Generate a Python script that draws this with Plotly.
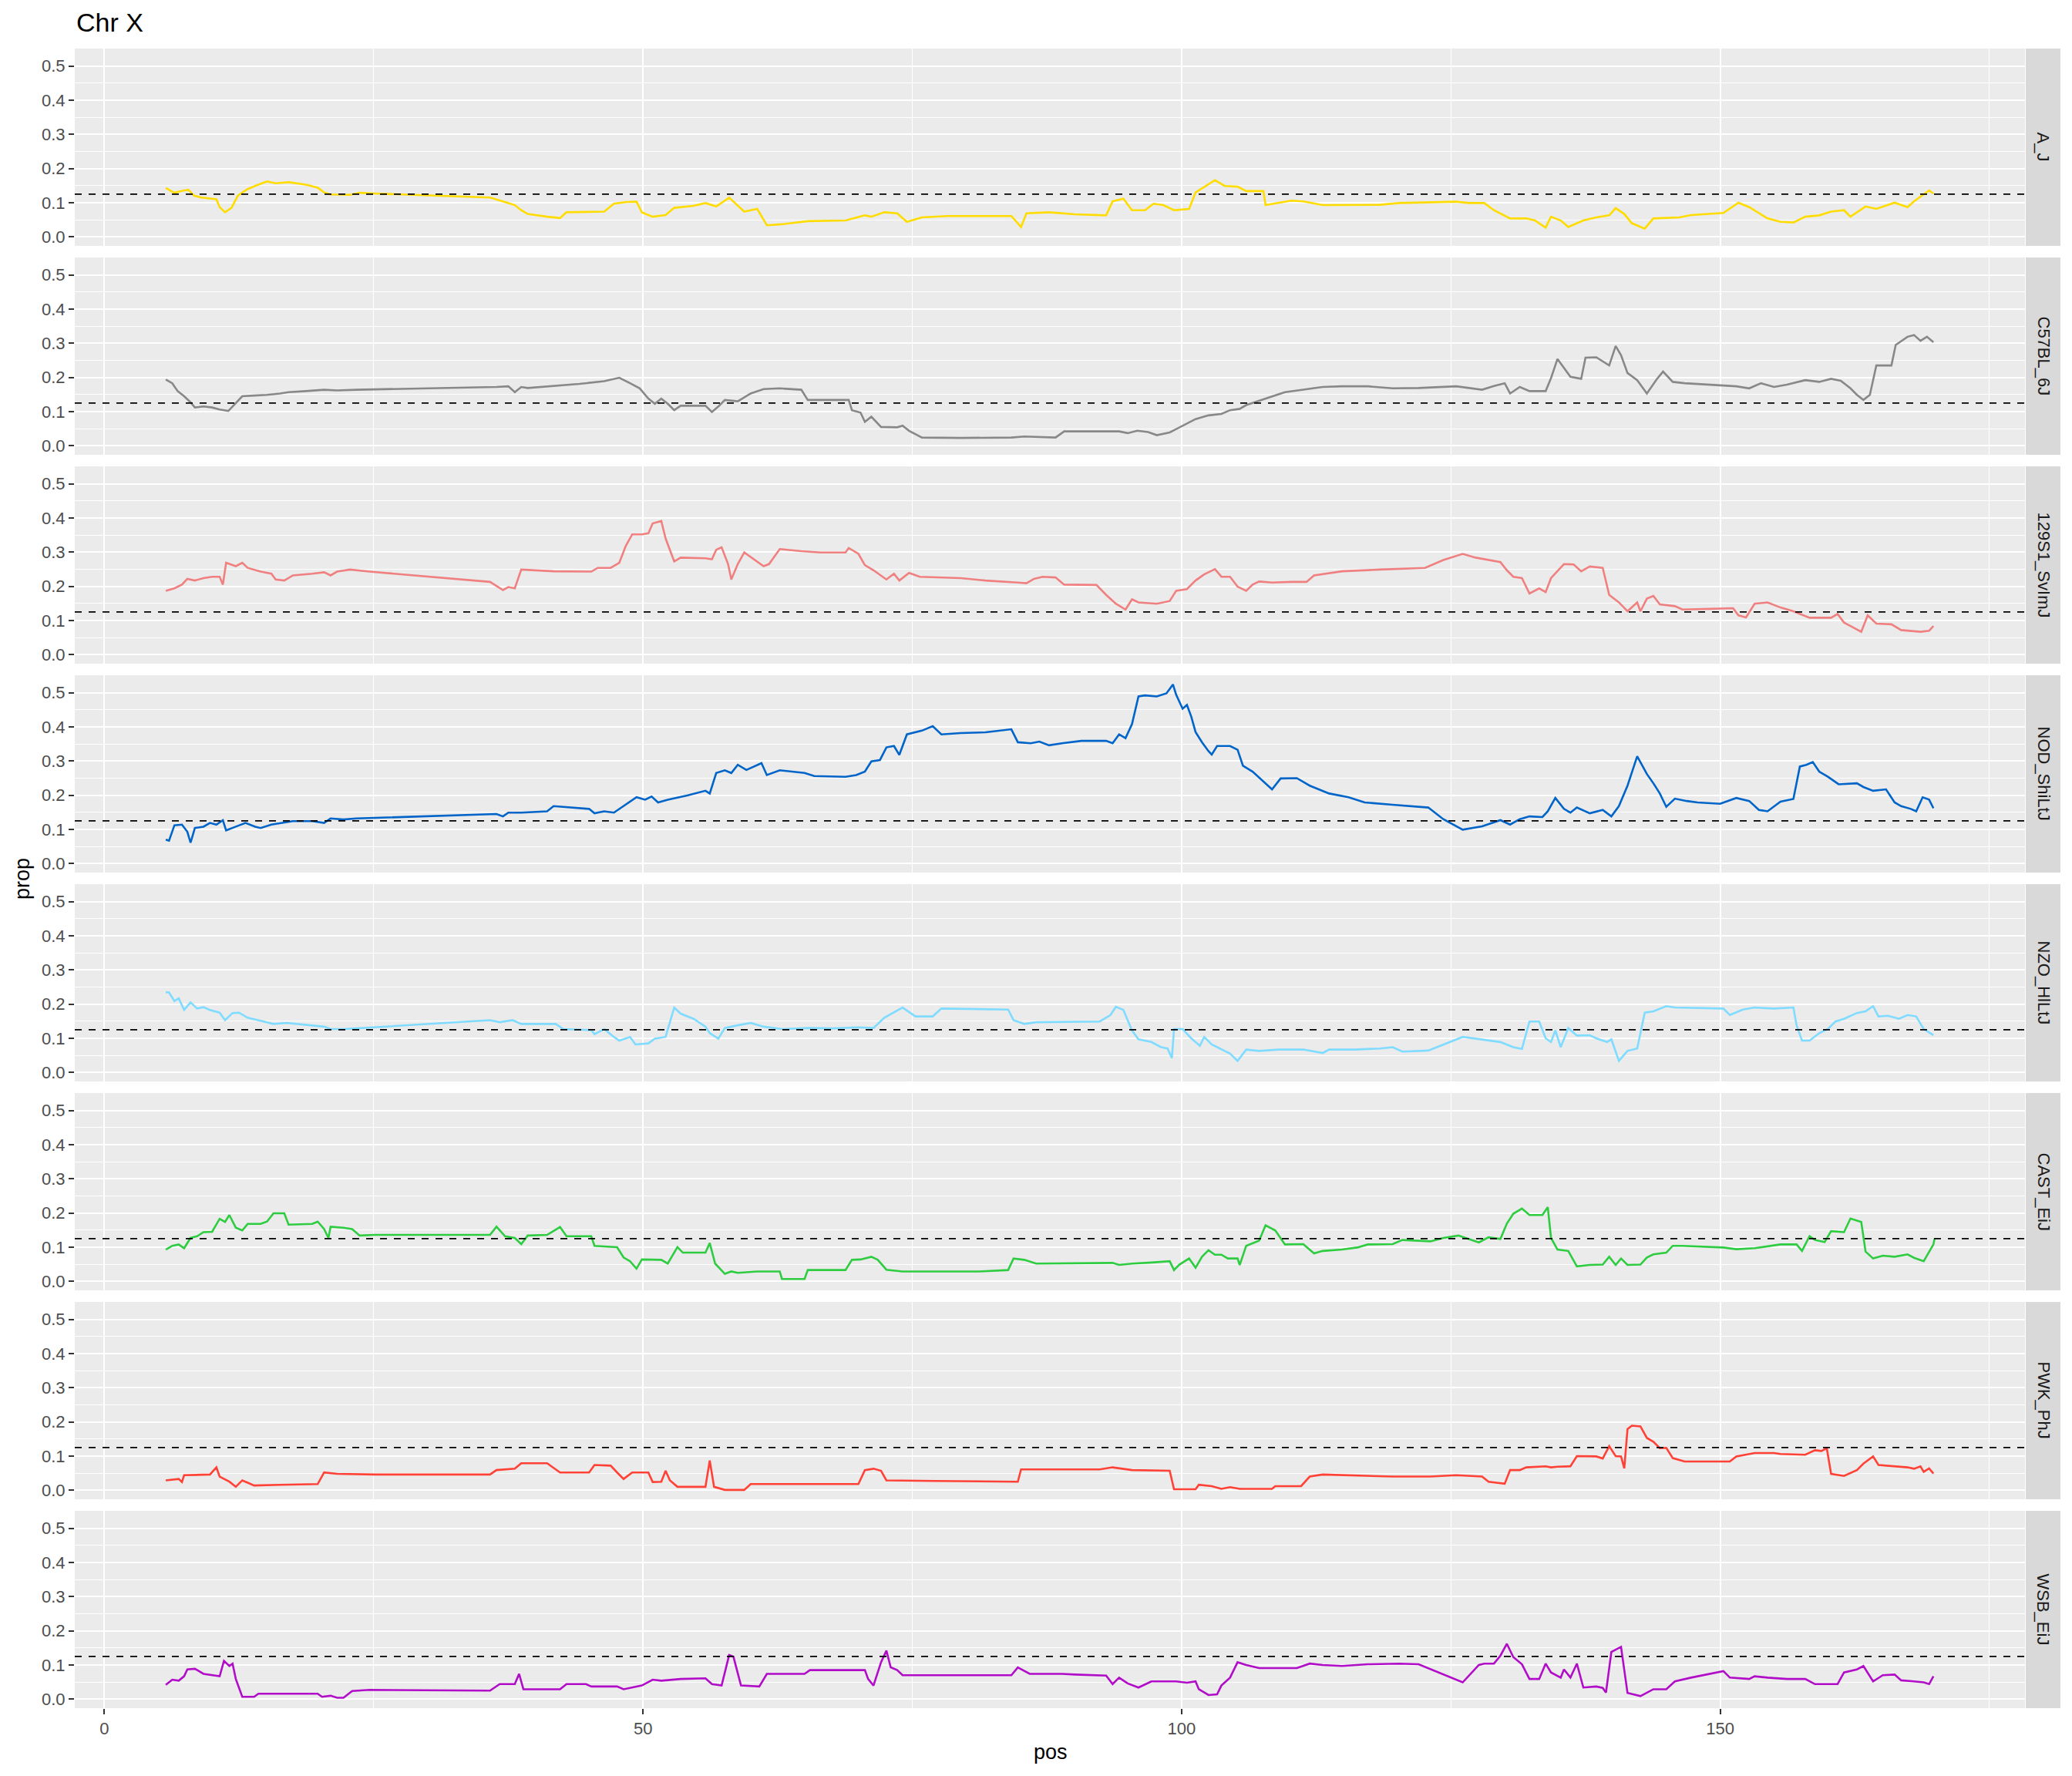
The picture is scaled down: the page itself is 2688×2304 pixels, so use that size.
import plotly.graph_objects as go
from plotly.subplots import make_subplots

strains = ["A_J", "C57BL_6J", "129S1_SvImJ", "NOD_ShiLtJ", "NZO_HlLtJ", "CAST_EiJ", "PWK_PhJ", "WSB_EiJ"]
colors = ["#FFDC00", "#888888", "#F08080", "#0064C9", "#7FDBFF", "#2ECC40", "#FF4136", "#B10DC9"]
threshold = 0.125

aj_pos = [5.7, 6.5, 7.4, 7.8, 8.3, 9.0, 10.4, 10.7, 11.2, 11.8, 12.4, 13.3, 14.3, 15.1, 15.9, 17.1, 18.7, 19.8, 20.4, 21.0, 22.8, 23.7, 25.1, 35.8, 37.0, 38.1, 38.7, 39.3, 41.1, 42.3, 42.9, 45.2, 46.4, 47.3, 48.5, 49.4, 49.9, 50.9, 52.1, 52.9, 54.7, 55.8, 56.8, 58.0, 59.4, 60.6, 61.5, 62.9, 65.3, 68.8, 70.6, 71.2, 72.4, 73.6, 74.5, 75.9, 78.3, 84.2, 85.1, 85.6, 87.7, 90.1, 93.0, 93.6, 94.6, 95.4, 96.6, 97.4, 98.3, 99.3, 100.7, 101.3, 102.2, 103.1, 104.0, 105.2, 106.0, 107.6, 107.8, 109.0, 110.2, 111.3, 113.1, 118.4, 120.2, 125.5, 126.7, 128.1, 129.0, 130.5, 132.0, 132.8, 133.8, 134.3, 135.2, 135.9, 137.3, 138.5, 139.7, 140.3, 141.1, 141.8, 143.0, 143.8, 146.2, 147.3, 150.3, 151.7, 152.7, 154.4, 155.6, 156.8, 157.9, 159.2, 160.3, 161.5, 162.1, 163.5, 164.5, 166.2, 167.4, 168.0, 169.0, 169.4, 169.8]
aj_prop = [0.143, 0.129, 0.136, 0.138, 0.121, 0.115, 0.110, 0.087, 0.072, 0.085, 0.121, 0.140, 0.153, 0.162, 0.157, 0.160, 0.153, 0.144, 0.130, 0.124, 0.123, 0.129, 0.127, 0.115, 0.104, 0.093, 0.078, 0.067, 0.059, 0.055, 0.072, 0.074, 0.074, 0.097, 0.102, 0.103, 0.072, 0.059, 0.064, 0.085, 0.091, 0.099, 0.089, 0.115, 0.074, 0.082, 0.034, 0.037, 0.046, 0.048, 0.063, 0.059, 0.072, 0.069, 0.044, 0.057, 0.061, 0.061, 0.029, 0.069, 0.072, 0.066, 0.063, 0.104, 0.112, 0.078, 0.078, 0.097, 0.093, 0.078, 0.082, 0.130, 0.149, 0.166, 0.149, 0.147, 0.134, 0.134, 0.093, 0.099, 0.106, 0.104, 0.093, 0.094, 0.099, 0.103, 0.099, 0.099, 0.078, 0.054, 0.054, 0.048, 0.027, 0.059, 0.048, 0.029, 0.048, 0.057, 0.063, 0.084, 0.067, 0.040, 0.024, 0.054, 0.057, 0.064, 0.070, 0.100, 0.087, 0.054, 0.044, 0.042, 0.059, 0.063, 0.074, 0.078, 0.059, 0.089, 0.082, 0.100, 0.087, 0.104, 0.127, 0.136, 0.127]

b6_pos = [5.7, 6.3, 6.8, 7.4, 8.0, 8.4, 9.2, 10.0, 10.7, 11.5, 11.9, 12.8, 13.9, 15.1, 16.3, 17.1, 18.7, 20.4, 21.6, 23.4, 36.4, 37.5, 38.1, 38.7, 39.3, 41.7, 44.1, 46.4, 47.8, 48.8, 49.7, 50.5, 51.1, 51.7, 52.3, 52.9, 53.5, 55.8, 56.4, 57.0, 57.6, 58.8, 60.0, 61.2, 62.7, 64.7, 65.3, 69.1, 69.4, 70.2, 70.6, 71.2, 72.1, 73.6, 74.1, 74.7, 75.9, 79.5, 84.2, 85.4, 88.3, 89.1, 94.2, 95.0, 95.9, 96.9, 97.7, 98.9, 100.1, 101.3, 102.5, 103.7, 104.5, 105.4, 106.0, 107.2, 108.4, 109.6, 111.3, 113.1, 114.9, 117.3, 119.6, 122.0, 125.5, 127.9, 129.0, 130.0, 130.5, 131.4, 132.3, 133.8, 134.3, 134.9, 135.5, 136.1, 137.1, 137.5, 138.5, 139.7, 140.3, 140.8, 141.4, 142.3, 143.2, 144.1, 144.7, 145.6, 146.7, 149.1, 151.5, 152.7, 153.8, 155.0, 156.2, 157.9, 159.2, 160.3, 161.2, 162.1, 162.7, 163.3, 163.9, 164.5, 165.9, 166.3, 167.4, 168.0, 168.6, 169.2, 169.8]
b6_prop = [0.194, 0.183, 0.160, 0.145, 0.127, 0.112, 0.115, 0.112, 0.106, 0.102, 0.115, 0.145, 0.147, 0.149, 0.153, 0.157, 0.160, 0.164, 0.162, 0.164, 0.172, 0.174, 0.157, 0.172, 0.169, 0.175, 0.181, 0.189, 0.199, 0.183, 0.168, 0.138, 0.123, 0.138, 0.123, 0.104, 0.117, 0.117, 0.099, 0.115, 0.134, 0.130, 0.153, 0.166, 0.168, 0.164, 0.134, 0.134, 0.104, 0.097, 0.070, 0.085, 0.055, 0.054, 0.059, 0.044, 0.024, 0.023, 0.024, 0.027, 0.024, 0.042, 0.042, 0.037, 0.044, 0.040, 0.031, 0.039, 0.059, 0.078, 0.089, 0.093, 0.104, 0.108, 0.119, 0.132, 0.145, 0.157, 0.164, 0.172, 0.174, 0.174, 0.168, 0.169, 0.174, 0.164, 0.175, 0.183, 0.153, 0.172, 0.160, 0.160, 0.198, 0.254, 0.228, 0.202, 0.196, 0.258, 0.259, 0.235, 0.292, 0.265, 0.213, 0.192, 0.153, 0.194, 0.217, 0.187, 0.183, 0.179, 0.174, 0.168, 0.183, 0.172, 0.179, 0.192, 0.187, 0.196, 0.190, 0.168, 0.149, 0.134, 0.149, 0.235, 0.235, 0.295, 0.319, 0.324, 0.307, 0.319, 0.303]

s129_pos = [5.7, 6.5, 7.2, 7.7, 8.4, 9.2, 10.0, 10.7, 11.0, 11.3, 12.2, 12.8, 13.3, 14.5, 15.5, 15.9, 16.7, 17.5, 19.3, 20.4, 21.0, 21.6, 22.8, 24.6, 35.8, 37.0, 37.5, 38.1, 38.7, 41.7, 45.2, 45.8, 47.0, 47.8, 48.4, 49.0, 49.9, 50.5, 50.9, 51.7, 52.1, 52.9, 53.5, 55.8, 56.4, 56.8, 57.3, 57.9, 58.2, 58.8, 59.4, 60.3, 61.2, 61.7, 62.7, 64.7, 66.5, 68.8, 69.1, 70.0, 70.6, 71.4, 72.1, 72.6, 73.3, 73.8, 74.7, 75.7, 79.5, 81.8, 84.8, 85.6, 86.3, 87.1, 88.3, 89.1, 92.1, 93.0, 93.9, 94.8, 95.4, 96.0, 97.7, 98.9, 99.5, 100.5, 101.3, 102.1, 103.1, 103.7, 104.5, 105.2, 106.0, 106.6, 107.2, 108.4, 110.2, 111.6, 112.3, 114.9, 118.4, 122.6, 124.3, 126.1, 127.3, 129.6, 130.2, 130.8, 131.6, 132.3, 133.2, 133.8, 134.3, 135.5, 136.4, 137.1, 137.9, 139.1, 139.7, 140.6, 141.4, 142.3, 142.6, 143.2, 143.8, 144.4, 145.8, 146.5, 149.1, 151.2, 151.7, 152.4, 153.2, 154.4, 155.6, 156.8, 158.3, 160.3, 160.9, 161.5, 162.1, 163.1, 163.7, 164.5, 165.9, 166.8, 168.6, 169.4, 169.8]
s129_prop = [0.187, 0.194, 0.205, 0.222, 0.217, 0.224, 0.228, 0.228, 0.205, 0.269, 0.259, 0.269, 0.254, 0.243, 0.237, 0.220, 0.217, 0.232, 0.237, 0.241, 0.232, 0.243, 0.249, 0.243, 0.213, 0.189, 0.198, 0.194, 0.249, 0.244, 0.243, 0.254, 0.254, 0.269, 0.318, 0.352, 0.352, 0.355, 0.384, 0.391, 0.340, 0.273, 0.284, 0.282, 0.279, 0.307, 0.314, 0.265, 0.220, 0.265, 0.299, 0.280, 0.259, 0.265, 0.309, 0.303, 0.299, 0.299, 0.312, 0.295, 0.262, 0.247, 0.232, 0.220, 0.237, 0.217, 0.239, 0.228, 0.224, 0.217, 0.211, 0.209, 0.222, 0.228, 0.226, 0.205, 0.204, 0.175, 0.149, 0.132, 0.162, 0.153, 0.149, 0.157, 0.187, 0.192, 0.217, 0.235, 0.250, 0.228, 0.228, 0.199, 0.187, 0.205, 0.214, 0.211, 0.213, 0.213, 0.232, 0.244, 0.249, 0.254, 0.277, 0.295, 0.284, 0.271, 0.247, 0.228, 0.224, 0.179, 0.194, 0.183, 0.224, 0.265, 0.264, 0.244, 0.258, 0.254, 0.175, 0.153, 0.127, 0.153, 0.127, 0.164, 0.172, 0.147, 0.142, 0.132, 0.134, 0.136, 0.115, 0.109, 0.149, 0.153, 0.138, 0.127, 0.108, 0.108, 0.119, 0.094, 0.084, 0.067, 0.115, 0.091, 0.089, 0.072, 0.067, 0.070, 0.084]

nod_pos = [5.7, 6.0, 6.5, 7.2, 7.7, 8.0, 8.4, 9.2, 9.8, 10.4, 11.0, 11.3, 12.2, 13.1, 14.0, 14.5, 15.5, 16.7, 17.5, 19.3, 20.4, 21.0, 22.2, 23.4, 36.4, 37.0, 37.5, 38.7, 41.1, 41.7, 43.4, 45.0, 45.5, 46.4, 47.3, 48.2, 49.4, 50.2, 50.8, 51.4, 52.3, 54.1, 55.8, 56.2, 56.8, 57.6, 58.2, 58.8, 59.6, 61.0, 61.5, 62.7, 65.0, 65.9, 68.8, 69.8, 70.6, 71.2, 72.0, 72.6, 73.3, 73.8, 74.5, 75.9, 76.9, 77.7, 79.5, 81.8, 84.2, 84.8, 86.0, 86.8, 87.7, 88.9, 90.7, 93.0, 93.6, 94.2, 94.8, 95.4, 96.0, 96.6, 97.7, 98.6, 99.2, 99.5, 100.1, 100.5, 100.9, 101.3, 101.9, 102.5, 102.8, 103.3, 104.5, 105.2, 105.7, 106.6, 107.8, 108.4, 109.2, 110.7, 111.9, 113.7, 115.5, 117.0, 119.6, 122.9, 124.3, 126.1, 127.9, 129.6, 130.5, 131.4, 132.3, 133.5, 134.0, 134.7, 135.5, 136.1, 136.7, 137.9, 139.1, 139.9, 140.6, 141.4, 142.3, 143.2, 143.8, 144.4, 145.0, 145.8, 146.9, 147.9, 150.0, 151.5, 152.7, 153.6, 154.4, 155.6, 156.8, 157.4, 158.0, 158.6, 159.2, 160.0, 161.0, 162.7, 163.3, 164.2, 165.4, 166.2, 166.8, 167.7, 168.2, 168.8, 169.4, 169.8]
nod_prop = [0.070, 0.067, 0.112, 0.114, 0.093, 0.061, 0.104, 0.108, 0.119, 0.114, 0.127, 0.097, 0.108, 0.119, 0.108, 0.104, 0.114, 0.119, 0.124, 0.124, 0.119, 0.132, 0.129, 0.132, 0.145, 0.138, 0.149, 0.149, 0.153, 0.168, 0.164, 0.160, 0.147, 0.153, 0.149, 0.168, 0.194, 0.187, 0.196, 0.179, 0.187, 0.199, 0.213, 0.205, 0.265, 0.273, 0.265, 0.289, 0.274, 0.294, 0.259, 0.273, 0.265, 0.256, 0.254, 0.259, 0.269, 0.299, 0.303, 0.340, 0.344, 0.318, 0.378, 0.389, 0.402, 0.378, 0.382, 0.384, 0.393, 0.355, 0.352, 0.357, 0.346, 0.352, 0.359, 0.359, 0.352, 0.378, 0.367, 0.408, 0.489, 0.492, 0.489, 0.498, 0.524, 0.494, 0.453, 0.464, 0.430, 0.385, 0.355, 0.329, 0.319, 0.344, 0.344, 0.333, 0.286, 0.269, 0.235, 0.217, 0.249, 0.250, 0.228, 0.205, 0.194, 0.179, 0.172, 0.164, 0.130, 0.099, 0.109, 0.127, 0.114, 0.130, 0.138, 0.136, 0.153, 0.192, 0.160, 0.149, 0.164, 0.147, 0.157, 0.138, 0.168, 0.228, 0.314, 0.262, 0.235, 0.205, 0.166, 0.190, 0.183, 0.179, 0.175, 0.192, 0.183, 0.157, 0.153, 0.181, 0.189, 0.284, 0.289, 0.297, 0.269, 0.254, 0.232, 0.235, 0.224, 0.213, 0.217, 0.179, 0.168, 0.160, 0.153, 0.194, 0.187, 0.162]

nzo_pos = [5.7, 6.0, 6.5, 6.9, 7.4, 8.0, 8.6, 9.2, 9.8, 10.7, 11.2, 11.9, 12.5, 13.3, 14.8, 15.7, 16.9, 18.7, 20.4, 21.0, 22.2, 23.4, 35.8, 36.7, 37.9, 38.7, 41.9, 42.6, 45.2, 45.5, 46.4, 47.3, 47.8, 48.8, 49.3, 50.5, 51.1, 52.1, 52.9, 53.5, 54.7, 55.8, 56.2, 57.0, 57.6, 58.8, 60.0, 61.2, 62.9, 65.3, 67.6, 70.0, 71.4, 72.4, 73.3, 74.1, 75.3, 76.9, 77.7, 83.9, 84.4, 85.4, 86.5, 92.4, 93.4, 93.9, 94.6, 95.4, 96.0, 97.2, 98.1, 98.7, 99.1, 99.3, 100.1, 100.9, 101.7, 102.1, 102.8, 103.7, 104.5, 105.2, 106.0, 107.2, 109.0, 111.3, 113.1, 113.7, 116.1, 118.4, 119.6, 120.5, 122.9, 126.1, 127.9, 129.6, 130.8, 131.6, 132.3, 133.2, 133.8, 134.3, 134.7, 135.2, 135.9, 136.7, 137.9, 138.5, 139.5, 139.9, 140.6, 141.4, 142.3, 143.0, 143.8, 145.0, 145.8, 147.9, 150.3, 150.9, 152.1, 153.2, 155.0, 156.8, 157.1, 157.6, 158.3, 159.2, 160.0, 160.7, 161.5, 162.7, 163.5, 164.2, 164.7, 165.6, 166.6, 167.4, 168.2, 168.9, 169.8]
nzo_prop = [0.235, 0.234, 0.209, 0.217, 0.183, 0.205, 0.187, 0.191, 0.183, 0.175, 0.153, 0.174, 0.175, 0.160, 0.149, 0.142, 0.145, 0.139, 0.134, 0.127, 0.127, 0.129, 0.153, 0.147, 0.153, 0.142, 0.142, 0.127, 0.124, 0.112, 0.127, 0.104, 0.093, 0.104, 0.082, 0.085, 0.099, 0.104, 0.190, 0.172, 0.157, 0.134, 0.115, 0.099, 0.130, 0.138, 0.145, 0.134, 0.127, 0.130, 0.129, 0.132, 0.130, 0.160, 0.175, 0.190, 0.164, 0.164, 0.187, 0.184, 0.153, 0.142, 0.147, 0.149, 0.168, 0.192, 0.183, 0.123, 0.097, 0.089, 0.074, 0.070, 0.042, 0.127, 0.127, 0.100, 0.078, 0.104, 0.082, 0.067, 0.055, 0.034, 0.067, 0.063, 0.067, 0.067, 0.057, 0.067, 0.067, 0.070, 0.074, 0.061, 0.064, 0.104, 0.097, 0.089, 0.074, 0.069, 0.149, 0.149, 0.100, 0.089, 0.123, 0.074, 0.130, 0.108, 0.109, 0.100, 0.089, 0.097, 0.034, 0.063, 0.070, 0.175, 0.179, 0.194, 0.190, 0.189, 0.187, 0.168, 0.184, 0.190, 0.187, 0.190, 0.138, 0.093, 0.093, 0.115, 0.127, 0.149, 0.157, 0.174, 0.179, 0.194, 0.164, 0.166, 0.157, 0.168, 0.164, 0.127, 0.109]

cast_pos = [5.7, 6.3, 6.9, 7.4, 8.0, 8.6, 9.2, 10.0, 10.7, 11.2, 11.6, 12.2, 12.8, 13.3, 14.5, 15.1, 15.7, 16.7, 17.1, 19.3, 19.8, 20.4, 20.8, 21.0, 22.2, 23.0, 23.7, 25.1, 35.8, 36.4, 37.2, 38.1, 38.7, 39.3, 41.1, 42.3, 42.9, 45.2, 45.5, 47.6, 48.2, 48.8, 49.4, 49.9, 51.7, 52.3, 53.2, 53.7, 55.8, 56.2, 56.7, 57.3, 57.6, 58.2, 58.8, 60.6, 62.7, 62.9, 65.0, 65.3, 68.8, 69.4, 70.2, 71.2, 71.8, 72.6, 74.1, 81.2, 83.9, 84.4, 85.4, 86.5, 93.6, 94.2, 95.4, 97.2, 98.9, 99.3, 99.8, 100.7, 101.3, 101.9, 102.5, 103.1, 103.7, 104.3, 105.2, 105.4, 106.0, 107.2, 107.8, 108.7, 109.6, 111.3, 112.3, 113.1, 114.9, 116.3, 117.3, 119.6, 120.5, 123.1, 124.3, 125.7, 126.7, 127.6, 128.5, 129.6, 130.2, 130.8, 131.6, 132.3, 133.5, 134.0, 134.3, 134.9, 135.9, 136.7, 137.9, 139.1, 139.7, 140.3, 140.8, 141.4, 142.6, 143.2, 143.8, 145.0, 145.6, 146.5, 150.3, 151.5, 153.2, 153.8, 155.6, 157.1, 157.6, 158.3, 158.8, 159.7, 160.3, 161.5, 162.1, 163.1, 163.5, 164.2, 165.1, 166.2, 167.4, 168.0, 168.9, 169.8, 169.9]
cast_prop = [0.093, 0.104, 0.108, 0.097, 0.127, 0.132, 0.144, 0.145, 0.183, 0.174, 0.194, 0.157, 0.149, 0.168, 0.168, 0.175, 0.199, 0.199, 0.166, 0.168, 0.175, 0.153, 0.127, 0.160, 0.157, 0.153, 0.134, 0.136, 0.136, 0.160, 0.132, 0.127, 0.109, 0.134, 0.136, 0.159, 0.132, 0.132, 0.104, 0.100, 0.070, 0.059, 0.037, 0.064, 0.063, 0.052, 0.100, 0.084, 0.084, 0.112, 0.052, 0.033, 0.022, 0.029, 0.025, 0.029, 0.029, 0.007, 0.007, 0.033, 0.033, 0.063, 0.064, 0.072, 0.063, 0.034, 0.029, 0.029, 0.033, 0.067, 0.063, 0.052, 0.054, 0.048, 0.052, 0.055, 0.059, 0.033, 0.049, 0.067, 0.040, 0.072, 0.091, 0.078, 0.078, 0.067, 0.067, 0.048, 0.104, 0.119, 0.164, 0.149, 0.108, 0.109, 0.082, 0.089, 0.093, 0.099, 0.108, 0.109, 0.121, 0.117, 0.127, 0.134, 0.124, 0.114, 0.129, 0.124, 0.169, 0.198, 0.213, 0.194, 0.194, 0.217, 0.127, 0.093, 0.089, 0.044, 0.048, 0.049, 0.072, 0.048, 0.067, 0.048, 0.049, 0.070, 0.079, 0.084, 0.104, 0.104, 0.099, 0.094, 0.097, 0.100, 0.108, 0.108, 0.089, 0.132, 0.121, 0.115, 0.147, 0.144, 0.184, 0.174, 0.087, 0.067, 0.075, 0.072, 0.079, 0.069, 0.059, 0.108, 0.124]

pwk_pos = [5.7, 6.9, 7.2, 7.4, 9.8, 10.4, 10.7, 11.6, 12.2, 12.8, 13.3, 13.9, 16.3, 19.8, 20.4, 21.6, 25.1, 35.8, 36.4, 38.1, 38.7, 41.1, 42.3, 45.0, 45.5, 47.0, 47.6, 48.2, 49.0, 50.5, 50.9, 51.7, 52.1, 52.5, 53.2, 55.8, 56.2, 56.6, 57.6, 59.4, 60.0, 70.0, 70.6, 71.4, 72.1, 72.6, 77.1, 81.6, 84.8, 85.1, 92.4, 93.6, 95.4, 98.9, 99.3, 101.3, 101.6, 102.8, 103.7, 104.5, 105.4, 108.4, 108.7, 111.1, 111.9, 113.1, 119.6, 123.1, 125.5, 127.9, 128.5, 130.0, 130.5, 131.4, 132.0, 133.8, 134.3, 134.9, 136.1, 136.7, 138.5, 139.1, 139.7, 140.3, 140.8, 141.1, 141.4, 141.8, 142.6, 143.2, 143.8, 144.4, 145.0, 145.6, 146.7, 150.9, 151.5, 153.2, 155.0, 155.6, 157.9, 158.8, 159.4, 159.9, 160.3, 161.5, 162.7, 163.3, 164.2, 164.7, 166.2, 167.4, 168.0, 168.6, 168.9, 169.4, 169.8]
pwk_prop = [0.029, 0.033, 0.024, 0.044, 0.046, 0.067, 0.040, 0.025, 0.010, 0.029, 0.022, 0.014, 0.016, 0.018, 0.052, 0.048, 0.046, 0.046, 0.059, 0.063, 0.079, 0.079, 0.052, 0.052, 0.074, 0.072, 0.052, 0.033, 0.052, 0.052, 0.024, 0.025, 0.057, 0.029, 0.010, 0.010, 0.087, 0.010, 0.001, 0.001, 0.018, 0.018, 0.059, 0.063, 0.057, 0.029, 0.027, 0.025, 0.025, 0.061, 0.061, 0.067, 0.059, 0.057, 0.003, 0.003, 0.016, 0.012, 0.004, 0.009, 0.004, 0.004, 0.012, 0.012, 0.040, 0.046, 0.040, 0.040, 0.044, 0.040, 0.025, 0.019, 0.059, 0.059, 0.067, 0.070, 0.067, 0.069, 0.070, 0.100, 0.099, 0.093, 0.129, 0.100, 0.099, 0.064, 0.179, 0.189, 0.187, 0.153, 0.142, 0.123, 0.124, 0.094, 0.084, 0.084, 0.099, 0.109, 0.109, 0.106, 0.104, 0.117, 0.115, 0.123, 0.048, 0.042, 0.059, 0.078, 0.099, 0.074, 0.070, 0.067, 0.063, 0.070, 0.054, 0.064, 0.049]

wsb_pos = [5.7, 6.3, 6.9, 7.4, 7.7, 8.4, 9.2, 10.0, 10.7, 11.1, 11.6, 11.9, 12.2, 12.8, 13.9, 14.3, 19.8, 20.2, 21.0, 21.6, 22.2, 23.0, 24.6, 35.8, 36.7, 38.1, 38.5, 38.9, 42.3, 42.9, 44.7, 45.2, 47.6, 48.2, 49.9, 50.9, 51.7, 53.5, 55.8, 56.4, 57.3, 58.0, 58.4, 59.1, 60.8, 61.5, 65.0, 65.5, 70.6, 70.9, 71.4, 72.1, 72.6, 73.0, 73.6, 74.1, 84.2, 84.8, 85.9, 88.9, 90.1, 93.0, 93.6, 94.2, 95.0, 96.0, 97.2, 99.5, 100.5, 101.3, 101.6, 102.5, 103.3, 103.7, 104.5, 105.2, 106.0, 107.2, 110.7, 111.9, 113.1, 114.9, 117.3, 120.2, 122.0, 126.1, 127.6, 128.1, 129.0, 129.6, 130.2, 130.8, 131.6, 132.3, 133.2, 133.8, 134.3, 135.2, 135.5, 136.1, 136.7, 137.3, 138.5, 139.1, 139.4, 139.9, 140.8, 141.4, 142.6, 143.8, 145.0, 145.8, 147.3, 150.3, 150.9, 152.7, 153.2, 154.4, 156.2, 157.9, 158.8, 160.9, 161.5, 162.7, 163.3, 164.2, 165.1, 166.2, 166.8, 168.0, 168.9, 169.4, 169.8]
wsb_prop = [0.042, 0.057, 0.054, 0.067, 0.087, 0.089, 0.074, 0.070, 0.067, 0.112, 0.097, 0.104, 0.059, 0.007, 0.007, 0.016, 0.016, 0.007, 0.010, 0.004, 0.004, 0.024, 0.027, 0.025, 0.044, 0.044, 0.074, 0.029, 0.029, 0.044, 0.044, 0.037, 0.037, 0.029, 0.040, 0.057, 0.054, 0.059, 0.061, 0.044, 0.040, 0.129, 0.124, 0.040, 0.037, 0.074, 0.074, 0.085, 0.085, 0.059, 0.040, 0.108, 0.142, 0.093, 0.085, 0.070, 0.070, 0.093, 0.074, 0.074, 0.072, 0.069, 0.044, 0.063, 0.046, 0.034, 0.052, 0.052, 0.048, 0.052, 0.029, 0.012, 0.014, 0.040, 0.063, 0.108, 0.100, 0.091, 0.091, 0.104, 0.100, 0.097, 0.102, 0.104, 0.102, 0.049, 0.100, 0.104, 0.104, 0.127, 0.162, 0.123, 0.102, 0.059, 0.059, 0.104, 0.078, 0.063, 0.087, 0.063, 0.104, 0.034, 0.037, 0.033, 0.019, 0.138, 0.153, 0.018, 0.009, 0.029, 0.029, 0.052, 0.063, 0.082, 0.063, 0.059, 0.067, 0.063, 0.059, 0.059, 0.044, 0.044, 0.078, 0.087, 0.097, 0.052, 0.070, 0.072, 0.055, 0.052, 0.049, 0.044, 0.067]

x_ticks = [0, 50, 100, 150]
y_ticks = [0.0, 0.1, 0.2, 0.3, 0.4, 0.5]

series_pos = [aj_pos, b6_pos, s129_pos, nod_pos, nzo_pos, cast_pos, pwk_pos, wsb_pos]
series_prop = [aj_prop, b6_prop, s129_prop, nod_prop, nzo_prop, cast_prop, pwk_prop, wsb_prop]

# The page body adds an 8px offset; margins are set so the plot lands at the target page pixels
OFF = 8
W, H = 2688, 2304
ML, MR, MT, MB = 97 - OFF, 61 + OFF, 63 - OFF, 88 + OFF
plot_w = W - ML - MR
plot_h = H - MT - MB
n = len(strains)


def px_x(p):
    return (p - OFF - ML) / plot_w


def px_y(q):
    return (H - MB - (q - OFF)) / plot_h


fig = make_subplots(rows=n, cols=1, shared_xaxes=True, vertical_spacing=15 / plot_h)

for i, s in enumerate(strains):
    r = i + 1
    fig.add_trace(go.Scatter(x=series_pos[i], y=series_prop[i], mode="lines",
                             line=dict(color=colors[i], width=2.6), name=s,
                             showlegend=False, hoverinfo="x+y"), row=r, col=1)
    fig.add_hline(y=threshold, row=r, col=1,
                  line=dict(color="black", dash="dash", width=1.6))
    fig.update_yaxes(row=r, col=1, range=[-0.0264, 0.551], tickvals=y_ticks,
                     ticktext=[f"{v:.1f}" for v in y_ticks],
                     showgrid=True, gridcolor="white", gridwidth=2.4,
                     minor=dict(tickvals=[0.05, 0.15, 0.25, 0.35, 0.45], showgrid=True,
                                gridcolor="white", gridwidth=1.1, ticks=""),
                     zeroline=False, ticks="outside", ticklen=7, tickwidth=2,
                     tickcolor="#333333", tickfont=dict(size=22, color="#4D4D4D"))
    fig.update_xaxes(row=r, col=1, range=[-2.75, 178.3], tickvals=x_ticks,
                     showgrid=True, gridcolor="white", gridwidth=2.4,
                     minor=dict(tickvals=[25, 75, 125, 175], showgrid=True,
                                gridcolor="white", gridwidth=1.1, ticks=""),
                     zeroline=False, ticks=("outside" if r == n else ""),
                     ticklen=7, tickwidth=2,
                     tickcolor="#333333", tickfont=dict(size=22, color="#4D4D4D"),
                     showticklabels=(r == n))
    yref = "y domain" if r == 1 else f"y{r} domain"
    sx0 = px_x(2628)
    sx1 = px_x(2673)
    fig.add_shape(type="rect", xref="paper", yref=yref, x0=sx0, x1=sx1, y0=0, y1=1,
                  fillcolor="#D9D9D9", line=dict(width=0), layer="below")
    fig.add_annotation(text=s, xref="paper", yref=yref, x=(sx0 + sx1) / 2, y=0.5,
                       xanchor="center", yanchor="middle",
                       showarrow=False, textangle=90,
                       font=dict(size=22, color="#1A1A1A"))

fig.add_annotation(text="Chr X", xref="paper", yref="paper", x=px_x(97), y=px_y(29),
                   xanchor="left", yanchor="middle", showarrow=False,
                   font=dict(size=34, color="black"))
fig.add_annotation(text="prop", xref="paper", yref="paper", x=px_x(29), y=px_y(1140),
                   xanchor="center", yanchor="middle",
                   textangle=-90, showarrow=False, font=dict(size=27, color="black"))
fig.add_annotation(text="pos", xref="paper", yref="paper", x=px_x(1363), y=px_y(2273),
                   xanchor="center", yanchor="middle",
                   showarrow=False, font=dict(size=27, color="black"))

fig.update_layout(width=W, height=H, margin=dict(l=ML, r=MR, t=MT, b=MB),
                  plot_bgcolor="#EBEBEB", paper_bgcolor="white",
                  font=dict(family="Liberation Sans, Arial, sans-serif"))

fig.write_html("out.html")
